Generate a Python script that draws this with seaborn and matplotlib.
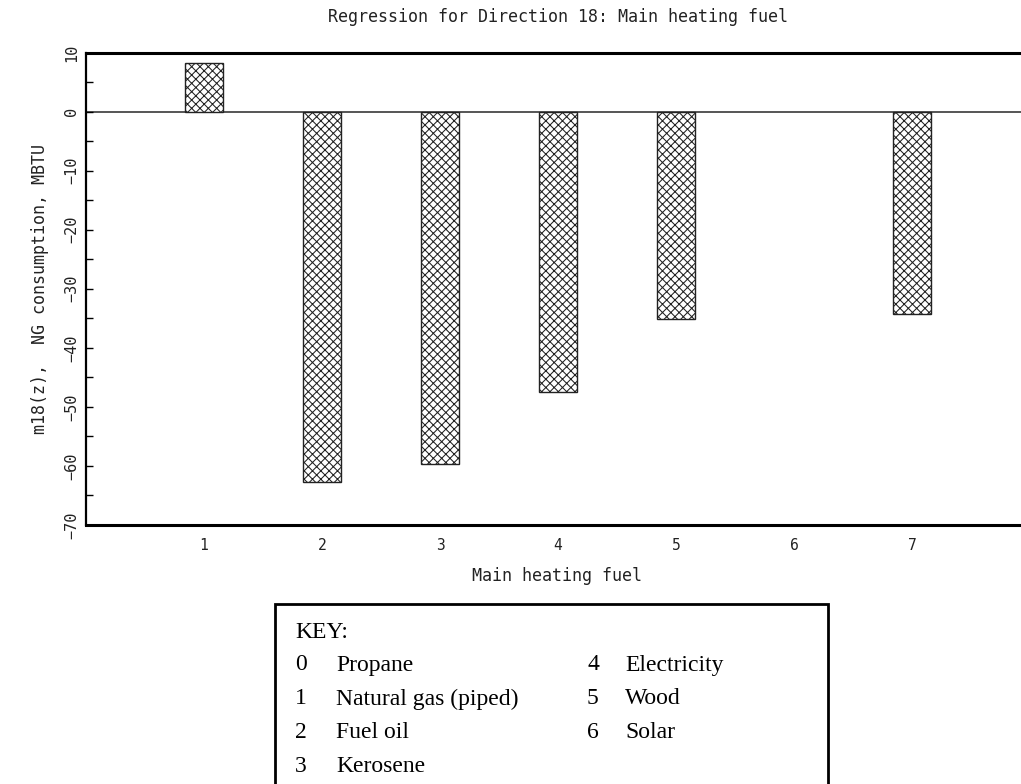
import numpy as np
import pandas as pd
import seaborn as sns
import matplotlib
matplotlib.use("Agg")
import matplotlib.pyplot as plt
from matplotlib.patches import Rectangle
from matplotlib.ticker import MultipleLocator

# Regression coefficients per main-heating-fuel code (code 6 has no estimate)
fuel_codes = [1, 2, 3, 4, 5, 6, 7]
coef_mbtu = [8.3, -62.7, -59.6, -47.5, -35.1, np.nan, -34.3]

key_codes_left = ["0", "1", "2", "3"]
key_names_left = ["Propane", "Natural gas (piped)", "Fuel oil", "Kerosene"]
key_codes_right = ["4", "5", "6"]
key_names_right = ["Electricity", "Wood", "Solar"]

title_text = "Regression for Direction 18: Main heating fuel"
xlabel_text = "Main heating fuel"
ylabel_text = "m18(z),  NG consumption, MBTU"

sns.set_theme(style="white")
plt.rcParams["font.family"] = ["DejaVu Sans Mono", "DejaVu Sans"]
plt.rcParams["hatch.color"] = "#3c3c3c"
plt.rcParams["hatch.linewidth"] = 0.75

df = pd.DataFrame({"fuel": fuel_codes, "coef": coef_mbtu}).dropna()

W, H = 1021, 784
fig = plt.figure(figsize=(W / 100, H / 100), dpi=100)
ax = fig.add_axes([86 / W, 1 - 525 / H, (1030 - 86) / W, (525 - 52.5) / H])

sns.barplot(data=df, x="fuel", y="coef", native_scale=True, width=0.33,
            color="white", edgecolor="#222222", linewidth=1.0,
            hatch="xxxx", ax=ax, errorbar=None)

ax.axhline(0, color="#555555", lw=1.4, zorder=0.5)

ax.set_xlim(0, 8)
ax.set_ylim(-70, 10)
ax.set_xticks(fuel_codes)
ax.set_xticklabels([str(c) for c in fuel_codes])
ax.yaxis.set_major_locator(MultipleLocator(10))
ax.yaxis.set_minor_locator(MultipleLocator(5))

ax.tick_params(axis="x", length=0, pad=9, labelsize=10.5, colors="#222222")
ax.tick_params(axis="y", which="both", direction="in", length=5, width=1,
               left=True, color="black", labelsize=11, labelcolor="#222222",
               labelrotation=90, pad=5)
for lbl in ax.get_yticklabels():
    lbl.set_va("center")

for side in ("top", "bottom"):
    ax.spines[side].set_linewidth(2.2)
    ax.spines[side].set_color("black")
ax.spines["left"].set_linewidth(1.6)
ax.spines["left"].set_color("black")
ax.spines["right"].set_visible(False)

ax.set_xlabel(xlabel_text, fontsize=12, color="#222222")
ax.xaxis.set_label_coords(0.499, -0.088)
ax.set_ylabel(ylabel_text, fontsize=12, color="#222222")
ax.yaxis.set_label_coords(-0.039, 0.5)
ax.set_title(title_text, fontsize=12, color="#222222", pad=22)

# Key box below the chart
fig.add_artist(Rectangle((275 / W, -0.02), (828 - 275) / W, 0.02 + (H - 604) / H,
                         transform=fig.transFigure, fill=False,
                         edgecolor="black", linewidth=2))
serif = ["Liberation Serif", "DejaVu Serif"]
fig.text(295 / W, 1 - 632 / H, "KEY:", family=serif, fontsize=17, va="center",
         color="black")
row_y = [665, 699, 732, 766]
for code, name, y in zip(key_codes_left, key_names_left, row_y):
    fig.text(295 / W, 1 - y / H, code, family=serif, fontsize=17, va="center",
             color="black")
    fig.text(336 / W, 1 - y / H, name, family=serif, fontsize=17, va="center",
             color="black")
for code, name, y in zip(key_codes_right, key_names_right, row_y):
    fig.text(587 / W, 1 - y / H, code, family=serif, fontsize=17, va="center",
             color="black")
    fig.text(625 / W, 1 - y / H, name, family=serif, fontsize=17, va="center",
             color="black")

fig.savefig("out.png", dpi=100)
